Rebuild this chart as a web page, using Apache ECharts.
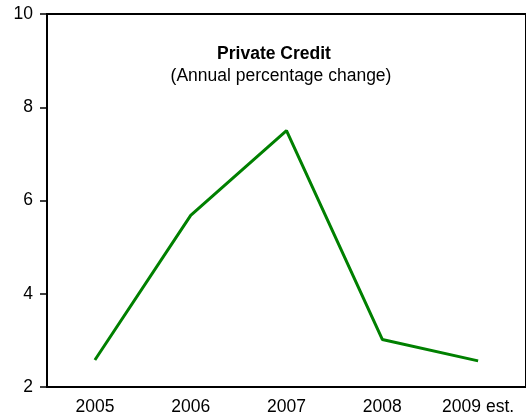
<!DOCTYPE html>
<html>
<head>
<meta charset="utf-8">
<script src="https://cdn.jsdelivr.net/npm/echarts@6/dist/echarts.min.js"></script>
<style>html,body{margin:0;padding:0;background:#fff;}#c{width:526px;height:420px;}</style>
</head>
<body>
<div id="c"></div>
<script>
var categories = ['2005', '2006', '2007', '2008', '2009 est.'];
var privateCredit = [2.58, 5.68, 7.5, 3.02, 2.56];
var yTicks = [2, 4, 6, 8, 10];
var titleText = 'Private Credit';
var subtitleText = '(Annual percentage change)';

var chart = echarts.init(document.getElementById('c'));
var font = '"Liberation Sans", Arial, sans-serif';
chart.setOption({
  animation: false,
  backgroundColor: '#fff',
  title: [
    { text: titleText, left: 269, top: 40, textAlign: 'center',
      textStyle: { fontFamily: font, fontSize: 17.5, fontWeight: 'bold', color: '#000' } },
    { text: subtitleText, left: 276, top: 62, textAlign: 'center',
      textStyle: { fontFamily: font, fontSize: 17.5, fontWeight: 'normal', color: '#000' } }
  ],
  grid: { left: 47, top: 14, width: 482, height: 373, show: true, borderColor: '#000', borderWidth: 2, backgroundColor: 'transparent' },
  xAxis: {
    type: 'category', data: categories, boundaryGap: true,
    axisLine: { lineStyle: { color: '#000', width: 2 } },
    axisTick: { inside: true, length: 7, lineStyle: { color: '#000', width: 1 } },
    axisLabel: { color: '#000', fontFamily: font, fontSize: 17.5, margin: 11 },
    splitLine: { show: false }
  },
  yAxis: {
    type: 'value', min: yTicks[0], max: yTicks[yTicks.length - 1], interval: 2,
    axisLine: { show: true, lineStyle: { color: '#000', width: 2 } },
    axisTick: { show: true, length: 7, lineStyle: { color: '#000', width: 1.5 } },
    axisLabel: { color: '#000', fontFamily: font, fontSize: 17.5, margin: 14 },
    splitLine: { show: false }
  },
  series: [{
    type: 'line', data: privateCredit, symbol: 'none',
    lineStyle: { color: '#008000', width: 3 }
  }]
});
</script>
</body>
</html>
